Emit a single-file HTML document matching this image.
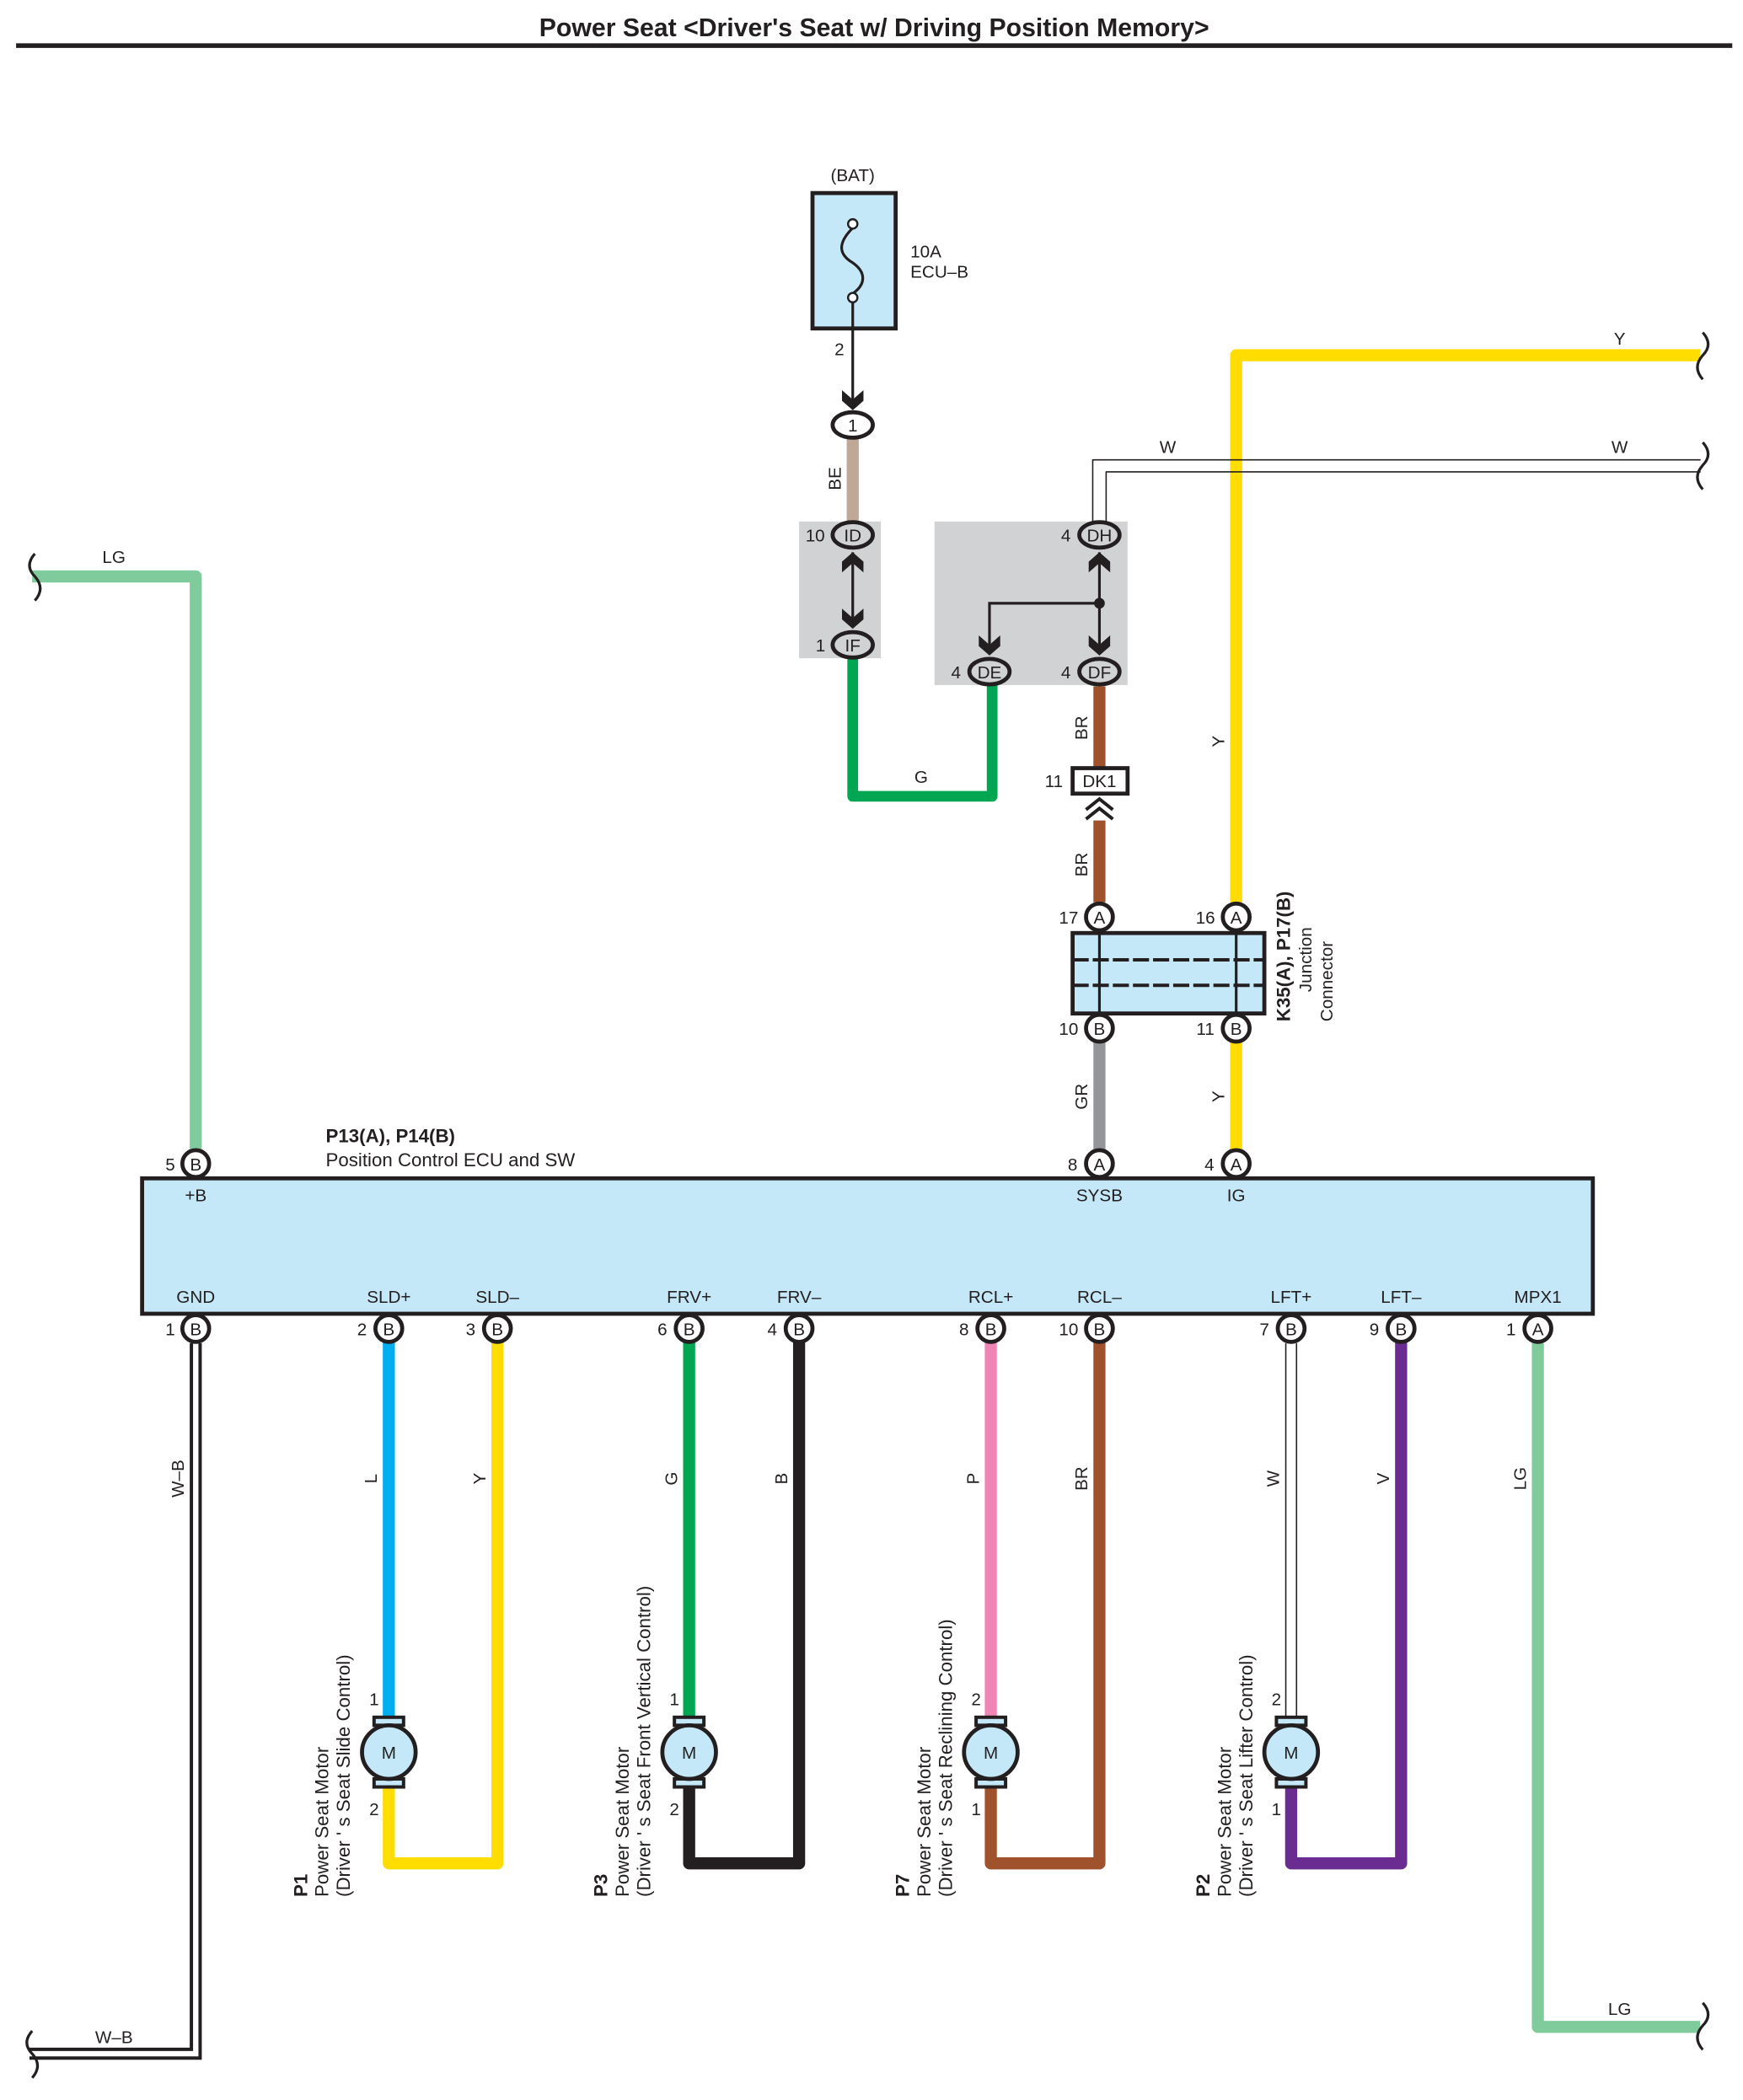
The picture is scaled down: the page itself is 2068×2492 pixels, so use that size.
<!DOCTYPE html>
<html><head><meta charset="utf-8"><style>
html,body{margin:0;padding:0;background:#fff}
svg{display:block}
text{font-family:"Liberation Sans",sans-serif;fill:#231f20}
</style></head><body>
<svg width="2068" height="2492" viewBox="0 0 1300 1566.5" xmlns="http://www.w3.org/2000/svg">
<defs>
<g id="chev"><polygon points="-8,-9 0,-2 8,-9 8,-1 0,6 -8,-1" fill="#231f20"/></g>
<g id="chevU"><polygon points="-8,9 0,2 8,9 8,1 0,-6 -8,1" fill="#231f20"/></g>
</defs>
<text x="652" y="27" font-size="19" font-weight="bold" text-anchor="middle">Power Seat &lt;Driver's Seat w/ Driving Position Memory&gt;</text>
<line x1="12" y1="34" x2="1292" y2="34" stroke="#231f20" stroke-width="3.5"/>

<!-- fuse -->
<text x="636" y="135" font-size="13" text-anchor="middle">(BAT)</text>
<rect x="606" y="144" width="62" height="101" fill="#c5e8f8" stroke="#231f20" stroke-width="3"/>
<path d="M636,170 C624,182 626,190 636,196 C646,203 646,212 636,219" fill="none" stroke="#231f20" stroke-width="2"/>
<circle cx="636" cy="167" r="3.5" fill="#fff" stroke="#231f20" stroke-width="1.5"/>
<circle cx="636" cy="222" r="3.5" fill="#fff" stroke="#231f20" stroke-width="1.5"/>
<text x="679" y="192" font-size="13">10A</text>
<text x="679" y="207" font-size="13">ECU–B</text>
<text x="626" y="265" font-size="13" text-anchor="middle">2</text>
<line x1="636" y1="226" x2="636" y2="300" stroke="#231f20" stroke-width="2"/>
<use href="#chev" x="636" y="300"/>

<!-- wires -->
<g fill="none" stroke-linejoin="round" stroke-linecap="round">
<line x1="636" y1="328" x2="636" y2="390" stroke="#bfa898" stroke-width="9"/>
<path d="M636,492 V594 H740 V512" stroke="#00a651" stroke-width="8"/>
<path d="M820,512 V573" stroke="#a0522d" stroke-width="9" stroke-linecap="butt"/>
<path d="M820,612 V673" stroke="#a0522d" stroke-width="9" stroke-linecap="butt"/>
<path d="M1268,265 H922 V673" stroke="#ffdd00" stroke-width="9" stroke-linecap="butt"/>
<path d="M820,778 V857" stroke="#939598" stroke-width="9"/>
<path d="M922,778 V857" stroke="#ffdd00" stroke-width="9"/>
<path d="M24,430 H146 V857" stroke="#7fcb9b" stroke-width="9" stroke-linecap="butt"/>
<path d="M1147,1002 V1512 H1268" stroke="#7fcb9b" stroke-width="9" stroke-linecap="butt"/>
<path d="M815,391 V343 H1268" stroke="#231f20" stroke-width="1"/>
<path d="M825,391 V352 H1268" stroke="#231f20" stroke-width="1"/>
<path d="M146,1002 V1532 H22" stroke="#231f20" stroke-width="9" stroke-linecap="butt" stroke-linejoin="miter"/>
<path d="M146,1002 V1532 H22" stroke="#fff" stroke-width="4" stroke-linecap="butt" stroke-linejoin="miter"/>
<path d="M290,1002 V1285" stroke="#00aeef" stroke-width="9"/>
<path d="M290,1330 V1390 H371 V1002" stroke="#ffdd00" stroke-width="9"/>
<path d="M514,1002 V1285" stroke="#00a651" stroke-width="9"/>
<path d="M514,1330 V1390 H596 V1002" stroke="#231f20" stroke-width="9"/>
<path d="M739,1002 V1285" stroke="#f085b5" stroke-width="9"/>
<path d="M739,1330 V1390 H820 V1002" stroke="#a0522d" stroke-width="9"/>
<path d="M963,1002 V1285" stroke="#231f20" stroke-width="9" stroke-linecap="butt"/>
<path d="M963,1002 V1285" stroke="#fff" stroke-width="7" stroke-linecap="butt"/>
<path d="M963,1330 V1390 H1045 V1002" stroke="#6a2c91" stroke-width="9"/>
</g>

<g fill="none" stroke="#231f20" stroke-width="2">
<path d="M1270,248 q8,9 0,17 q-8,9 0,18"/>
<path d="M1270,330 q8,9 0,17 q-8,9 0,18"/>
<path d="M1270,1494 q8,9 0,17 q-8,9 0,18"/>
<path d="M26,413 q-8,9 0,17 q8,9 0,18"/>
<path d="M24,1515 q-8,9 0,17 q8,9 0,18"/>
</g>

<rect x="596" y="389" width="61" height="102" fill="#d1d2d4"/>
<rect x="697" y="389" width="144" height="122" fill="#d1d2d4"/>
<line x1="636" y1="412" x2="636" y2="468" stroke="#231f20" stroke-width="2"/>
<use href="#chevU" x="636" y="418"/>
<use href="#chev" x="636" y="463"/>
<line x1="820" y1="412" x2="820" y2="488" stroke="#231f20" stroke-width="2"/>
<use href="#chevU" x="820" y="418"/>
<use href="#chev" x="820" y="483"/>
<path d="M820,450 H738 V488" fill="none" stroke="#231f20" stroke-width="2"/>
<circle cx="820" cy="450" r="4" fill="#231f20"/>
<use href="#chev" x="738" y="483"/>

<g font-size="13" text-anchor="middle">
<ellipse cx="636" cy="317" rx="15" ry="9.5" fill="#fff" stroke="#231f20" stroke-width="3"/><text x="636" y="322">1</text>
<ellipse cx="636" cy="399" rx="15" ry="9.5" fill="#d1d2d4" stroke="#231f20" stroke-width="3"/><text x="636" y="404">ID</text>
<ellipse cx="636" cy="481" rx="15" ry="9.5" fill="#d1d2d4" stroke="#231f20" stroke-width="3"/><text x="636" y="486">IF</text>
<ellipse cx="820" cy="399" rx="15" ry="9.5" fill="#d1d2d4" stroke="#231f20" stroke-width="3"/><text x="820" y="404">DH</text>
<ellipse cx="738" cy="501" rx="15" ry="9.5" fill="#d1d2d4" stroke="#231f20" stroke-width="3"/><text x="738" y="506">DE</text>
<ellipse cx="820" cy="501" rx="15" ry="9.5" fill="#d1d2d4" stroke="#231f20" stroke-width="3"/><text x="820" y="506">DF</text>
<text x="608" y="404">10</text><text x="612" y="486">1</text>
<text x="795" y="404">4</text><text x="713" y="506">4</text><text x="795" y="506">4</text>
</g>

<rect x="800" y="573" width="41" height="19" fill="#fff" stroke="#231f20" stroke-width="3"/>
<text x="820" y="587" font-size="13" text-anchor="middle">DK1</text>
<text x="786" y="587" font-size="13" text-anchor="middle">11</text>
<path d="M810,604 L820,596 L830,604 M810,611 L820,603 L830,611" fill="none" stroke="#231f20" stroke-width="2.5"/>

<g font-size="13" text-anchor="middle">
<text x="871" y="338">W</text><text x="1208" y="338">W</text>
<text x="1208" y="257">Y</text><text x="687" y="584">G</text>
<text x="85" y="420">LG</text><text x="1208" y="1503">LG</text><text x="85" y="1524">W–B</text>
<text transform="translate(627,357) rotate(-90)">BE</text>
<text transform="translate(811,543) rotate(-90)">BR</text>
<text transform="translate(811,645) rotate(-90)">BR</text>
<text transform="translate(913,553) rotate(-90)">Y</text>
<text transform="translate(811,818) rotate(-90)">GR</text>
<text transform="translate(913,818) rotate(-90)">Y</text>
<text transform="translate(137,1103) rotate(-90)">W–B</text>
<text transform="translate(281,1103) rotate(-90)">L</text>
<text transform="translate(362,1103) rotate(-90)">Y</text>
<text transform="translate(505,1103) rotate(-90)">G</text>
<text transform="translate(587,1103) rotate(-90)">B</text>
<text transform="translate(730,1103) rotate(-90)">P</text>
<text transform="translate(811,1103) rotate(-90)">BR</text>
<text transform="translate(954,1103) rotate(-90)">W</text>
<text transform="translate(1036,1103) rotate(-90)">V</text>
<text transform="translate(1138,1103) rotate(-90)">LG</text>
</g>

<rect x="800" y="696" width="143" height="60" fill="#c5e8f8" stroke="#231f20" stroke-width="3"/>
<line x1="820" y1="696" x2="820" y2="756" stroke="#231f20" stroke-width="2"/>
<line x1="922" y1="696" x2="922" y2="756" stroke="#231f20" stroke-width="2"/>
<line x1="800" y1="716" x2="943" y2="716" stroke="#231f20" stroke-width="2.5" stroke-dasharray="12,3"/>
<line x1="800" y1="735" x2="943" y2="735" stroke="#231f20" stroke-width="2.5" stroke-dasharray="12,3"/>
<text transform="translate(962,762) rotate(-90)" font-size="14" font-weight="bold">K35(A), P17(B)</text>
<text transform="translate(978,740) rotate(-90)" font-size="13">Junction</text>
<text transform="translate(994,762) rotate(-90)" font-size="13">Connector</text>

<text x="243" y="852" font-size="14" font-weight="bold">P13(A), P14(B)</text>
<text x="243" y="870" font-size="14">Position Control ECU and SW</text>
<rect x="106" y="879" width="1082" height="101" fill="#c5e8f8" stroke="#231f20" stroke-width="3"/>
<g font-size="13" text-anchor="middle">
<text x="146" y="896">+B</text><text x="820" y="896">SYSB</text><text x="922" y="896">IG</text>
<text x="146" y="972">GND</text><text x="290" y="972">SLD+</text><text x="371" y="972">SLD–</text>
<text x="514" y="972">FRV+</text><text x="596" y="972">FRV–</text>
<text x="739" y="972">RCL+</text><text x="820" y="972">RCL–</text>
<text x="963" y="972">LFT+</text><text x="1045" y="972">LFT–</text><text x="1147" y="972">MPX1</text>
</g>

<g font-size="13" text-anchor="middle">
<g stroke="#231f20" stroke-width="3" fill="#fff">
<circle cx="820" cy="684" r="10"/><circle cx="922" cy="684" r="10"/>
<circle cx="820" cy="767" r="10"/><circle cx="922" cy="767" r="10"/>
<circle cx="146" cy="868" r="10"/><circle cx="820" cy="868" r="10"/><circle cx="922" cy="868" r="10"/>
<circle cx="146" cy="991" r="10"/><circle cx="290" cy="991" r="10"/><circle cx="371" cy="991" r="10"/>
<circle cx="514" cy="991" r="10"/><circle cx="596" cy="991" r="10"/><circle cx="739" cy="991" r="10"/>
<circle cx="820" cy="991" r="10"/><circle cx="963" cy="991" r="10"/><circle cx="1045" cy="991" r="10"/>
<circle cx="1147" cy="991" r="10"/>
</g>
<text x="820" y="689">A</text><text x="922" y="689">A</text><text x="820" y="772">B</text><text x="922" y="772">B</text>
<text x="146" y="873">B</text><text x="820" y="873">A</text><text x="922" y="873">A</text>
<text x="146" y="996">B</text><text x="290" y="996">B</text><text x="371" y="996">B</text><text x="514" y="996">B</text>
<text x="596" y="996">B</text><text x="739" y="996">B</text><text x="820" y="996">B</text><text x="963" y="996">B</text>
<text x="1045" y="996">B</text><text x="1147" y="996">A</text>
<text x="797" y="689">17</text><text x="899" y="689">16</text><text x="797" y="772">10</text><text x="899" y="772">11</text>
<text x="127" y="873">5</text><text x="800" y="873">8</text><text x="902" y="873">4</text>
<text x="127" y="996">1</text><text x="270" y="996">2</text><text x="351" y="996">3</text><text x="494" y="996">6</text>
<text x="576" y="996">4</text><text x="719" y="996">8</text><text x="797" y="996">10</text><text x="943" y="996">7</text>
<text x="1025" y="996">9</text><text x="1127" y="996">1</text>
</g>

<g font-size="14">
<g transform="translate(290,0)">
<rect x="-11" y="1281" width="22" height="6" fill="#c5e8f8" stroke="#231f20" stroke-width="2.5"/>
<rect x="-11" y="1327" width="22" height="6" fill="#c5e8f8" stroke="#231f20" stroke-width="2.5"/>
<circle cx="0" cy="1307" r="20" fill="#c5e8f8" stroke="#231f20" stroke-width="3"/>
<text x="0" y="1312" text-anchor="middle" font-size="13">M</text>
<text x="-11" y="1272" text-anchor="middle" font-size="13">1</text><text x="-11" y="1354" text-anchor="middle" font-size="13">2</text>
<g transform="translate(-61,1415) rotate(-90)"><text x="0" y="0" font-weight="bold">P1</text><text x="0" y="16">Power Seat Motor</text><text x="0" y="32">(Driver ' s Seat Slide Control)</text></g>
</g>
<g transform="translate(514,0)">
<rect x="-11" y="1281" width="22" height="6" fill="#c5e8f8" stroke="#231f20" stroke-width="2.5"/>
<rect x="-11" y="1327" width="22" height="6" fill="#c5e8f8" stroke="#231f20" stroke-width="2.5"/>
<circle cx="0" cy="1307" r="20" fill="#c5e8f8" stroke="#231f20" stroke-width="3"/>
<text x="0" y="1312" text-anchor="middle" font-size="13">M</text>
<text x="-11" y="1272" text-anchor="middle" font-size="13">1</text><text x="-11" y="1354" text-anchor="middle" font-size="13">2</text>
<g transform="translate(-61,1415) rotate(-90)"><text x="0" y="0" font-weight="bold">P3</text><text x="0" y="16">Power Seat Motor</text><text x="0" y="32">(Driver ' s Seat Front Vertical Control)</text></g>
</g>
<g transform="translate(739,0)">
<rect x="-11" y="1281" width="22" height="6" fill="#c5e8f8" stroke="#231f20" stroke-width="2.5"/>
<rect x="-11" y="1327" width="22" height="6" fill="#c5e8f8" stroke="#231f20" stroke-width="2.5"/>
<circle cx="0" cy="1307" r="20" fill="#c5e8f8" stroke="#231f20" stroke-width="3"/>
<text x="0" y="1312" text-anchor="middle" font-size="13">M</text>
<text x="-11" y="1272" text-anchor="middle" font-size="13">2</text><text x="-11" y="1354" text-anchor="middle" font-size="13">1</text>
<g transform="translate(-61,1415) rotate(-90)"><text x="0" y="0" font-weight="bold">P7</text><text x="0" y="16">Power Seat Motor</text><text x="0" y="32">(Driver ' s Seat Reclining Control)</text></g>
</g>
<g transform="translate(963,0)">
<rect x="-11" y="1281" width="22" height="6" fill="#c5e8f8" stroke="#231f20" stroke-width="2.5"/>
<rect x="-11" y="1327" width="22" height="6" fill="#c5e8f8" stroke="#231f20" stroke-width="2.5"/>
<circle cx="0" cy="1307" r="20" fill="#c5e8f8" stroke="#231f20" stroke-width="3"/>
<text x="0" y="1312" text-anchor="middle" font-size="13">M</text>
<text x="-11" y="1272" text-anchor="middle" font-size="13">2</text><text x="-11" y="1354" text-anchor="middle" font-size="13">1</text>
<g transform="translate(-61,1415) rotate(-90)"><text x="0" y="0" font-weight="bold">P2</text><text x="0" y="16">Power Seat Motor</text><text x="0" y="32">(Driver ' s Seat Lifter Control)</text></g>
</g>
</g>
</svg>
</body></html>
